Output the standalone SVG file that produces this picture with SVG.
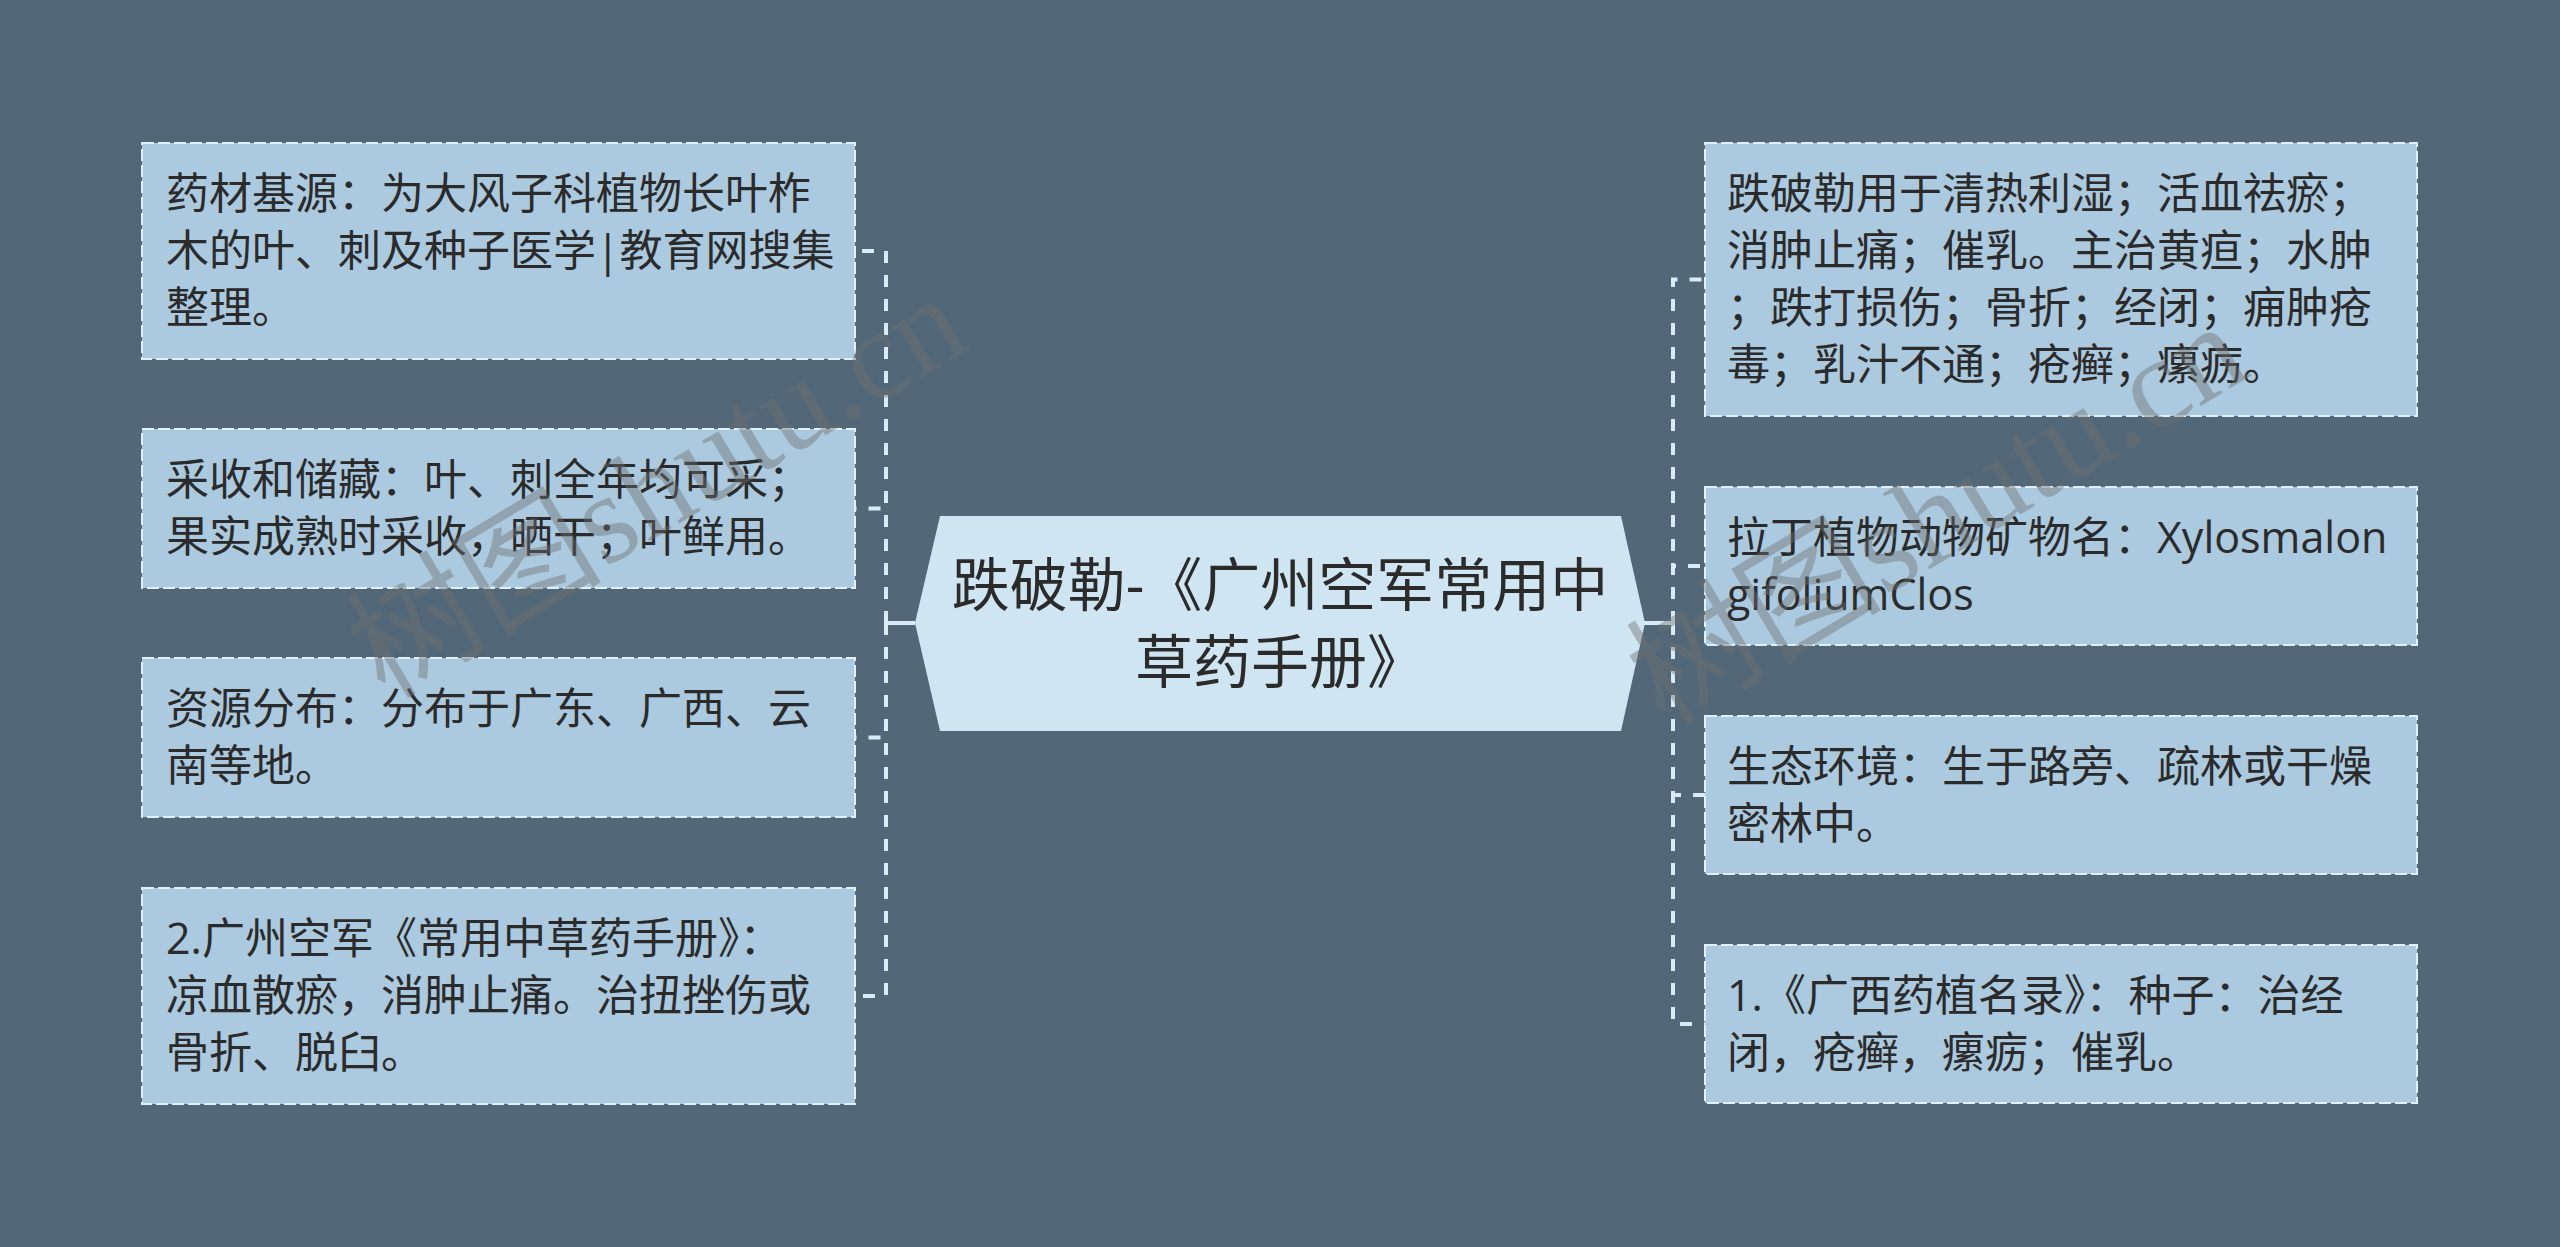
<svg xmlns="http://www.w3.org/2000/svg" width="2560" height="1247" viewBox="0 0 2560 1247">
<defs>
<style>
.bg{fill:#526878}
.node rect{fill:#abc9df;stroke:#e2f1f9;stroke-width:2;stroke-dasharray:12 4}
.center polygon{fill:#cfe5f2}
.t{font-family:"Open Sans","Noto Sans CJK SC",sans-serif;font-size:43px;fill:#2b2b2b}
.tc{font-family:"Open Sans","Noto Sans CJK SC",sans-serif;font-size:58px;fill:#2b2b2b;text-anchor:middle}
.dash{fill:none;stroke:#d9ecf6;stroke-width:4;stroke-dasharray:12 12}
.solid{fill:none;stroke:#d9ecf6;stroke-width:4}
.wm{font-family:"Liberation Serif","Noto Sans CJK SC",serif;font-size:128px;fill:#707070;opacity:0.42}
</style>
</defs>
<rect class="bg" x="0" y="0" width="2560" height="1247"/>
<g id="connectors">
<path class="solid" d="M915 623H886"/>
<path class="dash" d="M886 623V251H855"/>
<path class="dash" d="M886 623V508.5H855"/>
<path class="dash" d="M886 623V737.5H855"/>
<path class="dash" d="M886 623V996H855"/>
<path class="solid" d="M1643 623H1673"/>
<path class="dash" d="M1673 623V279.5H1705"/>
<path class="dash" d="M1673 623V566H1705"/>
<path class="dash" d="M1673 623V795H1705"/>
<path class="dash" d="M1673 623V1024H1705"/>
</g>
<g id="center" class="center">
<polygon points="940,516 1621,516 1645,623 1621,731 940,731 915,623"/>
<text class="tc" x="1280" y="606">跌破勒-《广州空军常用中</text>
<text class="tc" x="1280" y="683">草药手册》</text>
</g>
<g id="n-left-1" class="node">
<rect x="142" y="143" width="713" height="216"/>
<text class="t" x="166" y="209">药材基源：为大风子科植物长叶柞</text>
<text class="t" x="166" y="266">木的叶、刺及种子医学|教育网搜集</text>
<text class="t" x="166" y="323">整理。</text>
</g>
<g id="n-left-2" class="node">
<rect x="142" y="429" width="713" height="159"/>
<text class="t" x="166" y="495">采收和储藏：叶、刺全年均可采；</text>
<text class="t" x="166" y="552">果实成熟时采收，晒干；叶鲜用。</text>
</g>
<g id="n-left-3" class="node">
<rect x="142" y="658" width="713" height="159"/>
<text class="t" x="166" y="724">资源分布：分布于广东、广西、云</text>
<text class="t" x="166" y="781">南等地。</text>
</g>
<g id="n-left-4" class="node">
<rect x="142" y="888" width="713" height="216"/>
<text class="t" x="166" y="954">2.广州空军《常用中草药手册》：</text>
<text class="t" x="166" y="1011">凉血散瘀，消肿止痛。治扭挫伤或</text>
<text class="t" x="166" y="1068">骨折、脱臼。</text>
</g>
<g id="n-right-1" class="node">
<rect x="1705" y="143" width="712" height="273"/>
<text class="t" x="1727" y="209">跌破勒用于清热利湿；活血祛瘀；</text>
<text class="t" x="1727" y="266">消肿止痛；催乳。主治黄疸；水肿</text>
<text class="t" x="1727" y="323">；跌打损伤；骨折；经闭；痈肿疮</text>
<text class="t" x="1727" y="380">毒；乳汁不通；疮癣；瘰疬。</text>
</g>
<g id="n-right-2" class="node">
<rect x="1705" y="487" width="712" height="158"/>
<text class="t" x="1727" y="553">拉丁植物动物矿物名：Xylosmalon</text>
<text class="t" x="1727" y="610">gifoliumClos</text>
</g>
<g id="n-right-3" class="node">
<rect x="1705" y="716" width="712" height="158"/>
<text class="t" x="1727" y="782">生态环境：生于路旁、疏林或干燥</text>
<text class="t" x="1727" y="839">密林中。</text>
</g>
<g id="n-right-4" class="node">
<rect x="1705" y="945" width="712" height="158"/>
<text class="t" x="1727" y="1011">1.《广西药植名录》：种子：治经</text>
<text class="t" x="1727" y="1068">闭，疮癣，瘰疬；催乳。</text>
</g>
<g id="watermarks">
<text class="wm" transform="translate(385,700) rotate(-31)">树图shutu.cn</text>
<text class="wm" transform="translate(1665,728) rotate(-31)">树图shutu.cn</text>
</g>
</svg>
